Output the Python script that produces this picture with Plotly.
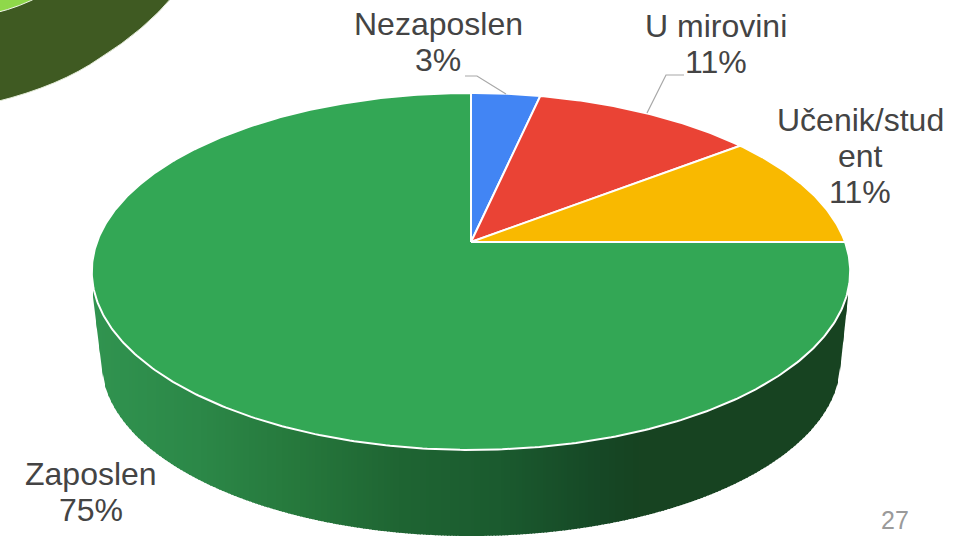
import numpy as np
import plotly.graph_objects as go

categories = ["Nezaposlen", "U mirovini", "Učenik/stud\nent", "Zaposlen"]
shares = [3.45, 11.1, 10.45, 75.0]
percent_labels = ["3%", "11%", "11%", "75%"]
colors = ["#4285f4", "#ea4335", "#f9b900", "#33a755"]

W, H = 958, 536
CX, CY = 471.0, 242.0        # apex of the pie on the page
AX, BY, K = 374.0, 173.6, 0.165  # perspective of the top face


def project(theta):
    u, v = np.sin(theta), np.cos(theta)
    w = 1 + K * v
    return CX + AX * u / w, CY - BY * v / w


def top_edge_y(x):
    a, b = AX / np.sqrt(1 - K * K), 179.0
    return 271.0 + b * np.sqrt(np.clip(1 - ((x - CX) / a) ** 2, 0, 1))


def bottom_edge_y(x):
    y = 362.0 + 174.0 * np.sqrt(np.clip(1 - ((x - CX) / 369.5) ** 2, 0, 1))
    left, right = CX - 368.0, CX + 369.0
    if x < left:
        return 297 + (x - 93) / (left - 93) * (bottom_edge_y(left) - 297)
    if x > right:
        return 297 + (848 - x) / (848 - right) * (bottom_edge_y(right) - 297)
    return y


wall_stops_x = [93, 200, 300, 400, 500, 600, 640, 848]
wall_stops_rgb = [(49, 148, 80), (44, 136, 72), (38, 120, 60), (31, 101, 51),
                  (27, 91, 47), (22, 72, 38), (23, 67, 33), (23, 67, 33)]

fig = go.Figure()

# side wall, painted as narrow strips to give its horizontal gradient
step = 3
for x0 in np.arange(93, 848, step):
    x1 = min(x0 + step + 1, 848)
    xm = (x0 + x1) / 2
    rgb = [int(np.interp(xm, wall_stops_x, [c[i] for c in wall_stops_rgb])) for i in range(3)]
    col = f"rgb({rgb[0]},{rgb[1]},{rgb[2]})"
    fig.add_trace(go.Scatter(
        x=[x0, x1, x1, x0, x0],
        y=[top_edge_y(x0) - 3, top_edge_y(x1) - 3, bottom_edge_y(x1), bottom_edge_y(x0), top_edge_y(x0) - 3],
        mode="lines", fill="toself", fillcolor=col, line=dict(width=0),
        hoverinfo="skip", showlegend=False))

# top face slices
total = sum(shares)
start = 0.0
for name, share, color in zip(categories, shares, colors):
    end = start + share / total * 2 * np.pi
    th = np.linspace(start, end, max(int(share * 6), 12))
    xs, ys = project(th)
    fig.add_trace(go.Scatter(
        x=np.r_[CX, xs, CX], y=np.r_[CY, ys, CY],
        mode="lines", fill="toself", fillcolor=color,
        line=dict(color="white", width=2), name=name.replace("\n", ""),
        hoverinfo="skip", showlegend=False))
    start = end

# leader lines
leader_color = "#a8a8a8"
fig.add_trace(go.Scatter(x=[465, 477, 506], y=[76, 76, 94], mode="lines",
                         line=dict(color=leader_color, width=1.2), hoverinfo="skip", showlegend=False))
fig.add_trace(go.Scatter(x=[684, 666, 647], y=[75, 75, 113], mode="lines",
                         line=dict(color=leader_color, width=1.2), hoverinfo="skip", showlegend=False))

# labels, one annotation per line
label_pos = [(438, 24), (716, 26), (860, 120), (91, 474)]
line_gap = 36
for name, pct, (lx, ly) in zip(categories, percent_labels, label_pos):
    lines = name.split("\n") + [pct]
    for i, txt in enumerate(lines):
        fig.add_annotation(x=lx, y=ly + i * line_gap, text=txt, showarrow=False,
                           xanchor="center", yanchor="middle",
                           font=dict(family="Liberation Sans", size=32, color="#444444"))

fig.add_annotation(x=895, y=520, text="27", showarrow=False, xanchor="center", yanchor="middle",
                   font=dict(family="Liberation Sans", size=25, color="#9a9a9a"))

fig.update_layout(
    width=W, height=H, margin=dict(l=0, r=0, t=0, b=0),
    paper_bgcolor="white", plot_bgcolor="white", showlegend=False,
    xaxis=dict(range=[0, W], visible=False, fixedrange=True),
    yaxis=dict(range=[H, 0], visible=False, fixedrange=True),
    shapes=[
        dict(type="path", xref="x", yref="y", layer="below",
             path="M -5 102 Q 60 86 100 58 Q 145 30 174 -5 L -5 -5 Z",
             fillcolor="#3f5a22", line=dict(color="#e4ecd8", width=1)),
        dict(type="path", xref="x", yref="y", layer="below",
             path="M -5 13 Q 20 7 42 -5 L -5 -5 Z",
             fillcolor="#8fd84a", line=dict(color="#f2f8e8", width=1)),
    ],
)

fig.write_html("out.html", config=dict(displayModeBar=False),
               post_script="document.body.style.margin='0';document.body.style.overflow='hidden';")
